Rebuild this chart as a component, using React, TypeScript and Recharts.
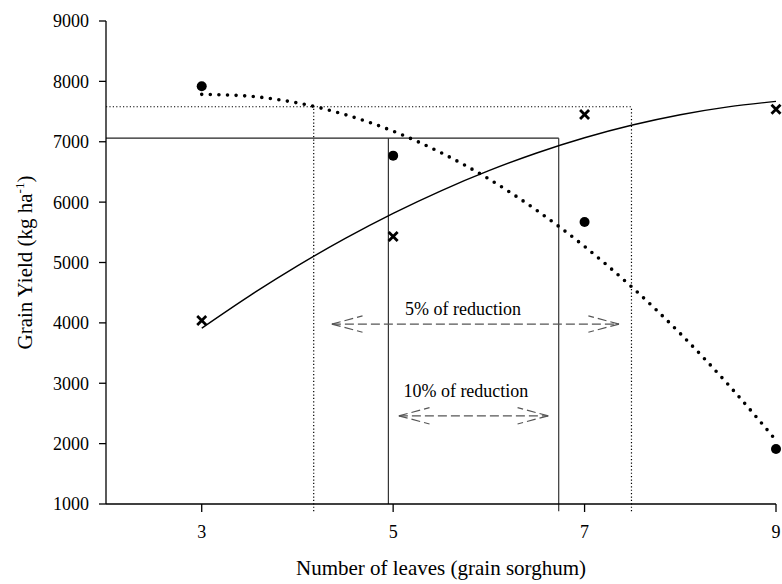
import {
  ComposedChart,
  Line,
  Scatter,
  XAxis,
  YAxis,
  ReferenceLine,
  ReferenceDot,
} from "recharts"

// measured yields per leaf count
const leafCounts = [3, 5, 7, 9]
const yieldDots = [7920, 6770, 5670, 1910]
const yieldCrosses = [4040, 5430, 7450, 7540]

// fitted trend curves, read at half-leaf steps
const trendLeaves = [3, 3.5, 4, 4.5, 5, 5.5, 6, 6.5, 7, 7.5, 8, 8.5, 9]
const trendDots = [7785, 7754, 7643, 7449, 7175, 6819, 6383, 5864, 5265, 4584, 3823, 2979, 2055]
const trendCrosses = [3912, 4448, 4944, 5399, 5814, 6188, 6521, 6814, 7066, 7277, 7448, 7578, 7668]

const xTicks = [3, 5, 7, 9]
const yTicks = [1000, 2000, 3000, 4000, 5000, 6000, 7000, 8000, 9000]

// guide boxes: yield level and the leaf range it spans
const guide5 = { level: 7580, from: 4.17, to: 7.49 }
const guide10 = { level: 7060, from: 4.95, to: 6.73 }

// double arrows under the guides
const arrow5 = { level: 3980, from: 4.36, to: 7.36, label: "5% of reduction", labelAt: 5.73, labelLevel: 4130 }
const arrow10 = { level: 2460, from: 5.06, to: 6.62, label: "10% of reduction", labelAt: 5.76, labelLevel: 2767 }

const FONT = '"Liberation Serif", "Times New Roman", serif'

const DotMark = (props: any) => {
  const { cx, cy } = props
  return <circle cx={cx} cy={cy} r={5} fill="#000" />
}

const CrossMark = (props: any) => {
  const { cx, cy } = props
  const s = 4.5
  return (
    <g stroke="#000" strokeWidth={2.8}>
      <line x1={cx - s} y1={cy - s} x2={cx + s} y2={cy + s} />
      <line x1={cx - s} y1={cy + s} x2={cx + s} y2={cy - s} />
    </g>
  )
}

const YTitle = (props: any) => {
  const vb = props.viewBox
  const x = vb.x - 21
  const y = vb.y + vb.height / 2
  return (
    <text
      x={x}
      y={y}
      transform={`rotate(-90 ${x} ${y})`}
      textAnchor="middle"
      dy="0.35em"
      fontSize={21}
      fill="#000"
    >
      Grain Yield (kg ha
      <tspan dy={-8} fontSize={13}>
        -1
      </tspan>
      <tspan dy={8}>)</tspan>
    </text>
  )
}

const NoteLabel = (props: any) => {
  const vb = props.viewBox
  return (
    <text x={vb.x} y={vb.y} textAnchor="middle" fontSize={18} fill="#000">
      {props.value}
    </text>
  )
}

const dotted = { stroke: "#000", strokeWidth: 1.2, strokeDasharray: "1.2 2.2" }
const solid = { stroke: "#222", strokeWidth: 1.1 }
const arrowStyle = { stroke: "#555", strokeWidth: 1.2, strokeDasharray: "9 4" }

function arrowLines(a: typeof arrow5, key: string) {
  const hx = 0.32
  const hy = 135
  const segs = [
    [a.from, a.level, a.to, a.level],
    [a.from, a.level, a.from + hx, a.level + hy],
    [a.from, a.level, a.from + hx, a.level - hy],
    [a.to, a.level, a.to - hx, a.level + hy],
    [a.to, a.level, a.to - hx, a.level - hy],
  ]
  return segs.map(([x1, y1, x2, y2], i) => (
    <ReferenceLine
      key={`${key}-${i}`}
      segment={[
        { x: x1, y: y1 },
        { x: x2, y: y2 },
      ]}
      {...arrowStyle}
    />
  ))
}

export default function App() {
  const dots = leafCounts.map((x, i) => ({ x, y: yieldDots[i] }))
  const crosses = leafCounts.map((x, i) => ({ x, y: yieldCrosses[i] }))
  const dotTrend = trendLeaves.map((x, i) => ({ x, y: trendDots[i] }))
  const crossTrend = trendLeaves.map((x, i) => ({ x, y: trendCrosses[i] }))

  return (
    <div style={{ position: "absolute", left: 0, top: 0, fontFamily: FONT, background: "#fff" }}>
      <ComposedChart width={782} height={584} margin={{ top: 21, right: 6, bottom: 50, left: 46 }}>
        <XAxis
          type="number"
          dataKey="x"
          domain={[2, 9]}
          ticks={xTicks}
          height={30}
          tickSize={8}
          tickMargin={13}
          stroke="#000"
          strokeWidth={1.3}
          tick={{ fill: "#000", fontSize: 18 }}
          label={{
            value: "Number of leaves (grain sorghum)",
            position: "bottom",
            offset: 26,
            fill: "#000",
            fontSize: 21,
          }}
        />
        <YAxis
          type="number"
          dataKey="y"
          domain={[1000, 9000]}
          ticks={yTicks}
          width={60}
          tickSize={7}
          tickMargin={10}
          stroke="#000"
          strokeWidth={1.3}
          tick={{ fill: "#000", fontSize: 18 }}
          label={<YTitle />}
        />

        {/* 5% box, dotted */}
        <ReferenceLine
          segment={[{ x: 2, y: guide5.level }, { x: guide5.to, y: guide5.level }]}
          {...dotted}
          ifOverflow="visible"
        />
        <ReferenceLine
          segment={[{ x: guide5.from, y: 880 }, { x: guide5.from, y: guide5.level }]}
          {...dotted}
          ifOverflow="visible"
        />
        <ReferenceLine
          segment={[{ x: guide5.to, y: 880 }, { x: guide5.to, y: guide5.level }]}
          {...dotted}
          ifOverflow="visible"
        />

        {/* 10% box, solid */}
        <ReferenceLine
          segment={[{ x: 2, y: guide10.level }, { x: guide10.to, y: guide10.level }]}
          {...solid}
          ifOverflow="visible"
        />
        <ReferenceLine
          segment={[{ x: guide10.from, y: 1000 }, { x: guide10.from, y: guide10.level }]}
          {...solid}
          ifOverflow="visible"
        />
        <ReferenceLine
          segment={[{ x: guide10.to, y: 880 }, { x: guide10.to, y: guide10.level }]}
          {...solid}
          ifOverflow="visible"
        />

        {arrowLines(arrow5, "a5")}
        {arrowLines(arrow10, "a10")}

        <ReferenceDot
          x={arrow5.labelAt}
          y={arrow5.labelLevel}
          r={0}
          fill="none"
          stroke="none"
          label={{ value: arrow5.label, content: NoteLabel }}
        />
        <ReferenceDot
          x={arrow10.labelAt}
          y={arrow10.labelLevel}
          r={0}
          fill="none"
          stroke="none"
          label={{ value: arrow10.label, content: NoteLabel }}
        />

        <Line
          data={crossTrend}
          dataKey="y"
          type="monotone"
          stroke="#000"
          strokeWidth={1.4}
          dot={false}
          activeDot={false}
          isAnimationActive={false}
        />
        <Line
          data={dotTrend}
          dataKey="y"
          type="monotone"
          stroke="#000"
          strokeWidth={3.6}
          strokeDasharray="0 8.6"
          strokeLinecap="round"
          dot={false}
          activeDot={false}
          isAnimationActive={false}
        />

        <Scatter data={dots} dataKey="y" shape={DotMark} isAnimationActive={false} />
        <Scatter data={crosses} dataKey="y" shape={CrossMark} isAnimationActive={false} />
      </ComposedChart>
    </div>
  )
}
